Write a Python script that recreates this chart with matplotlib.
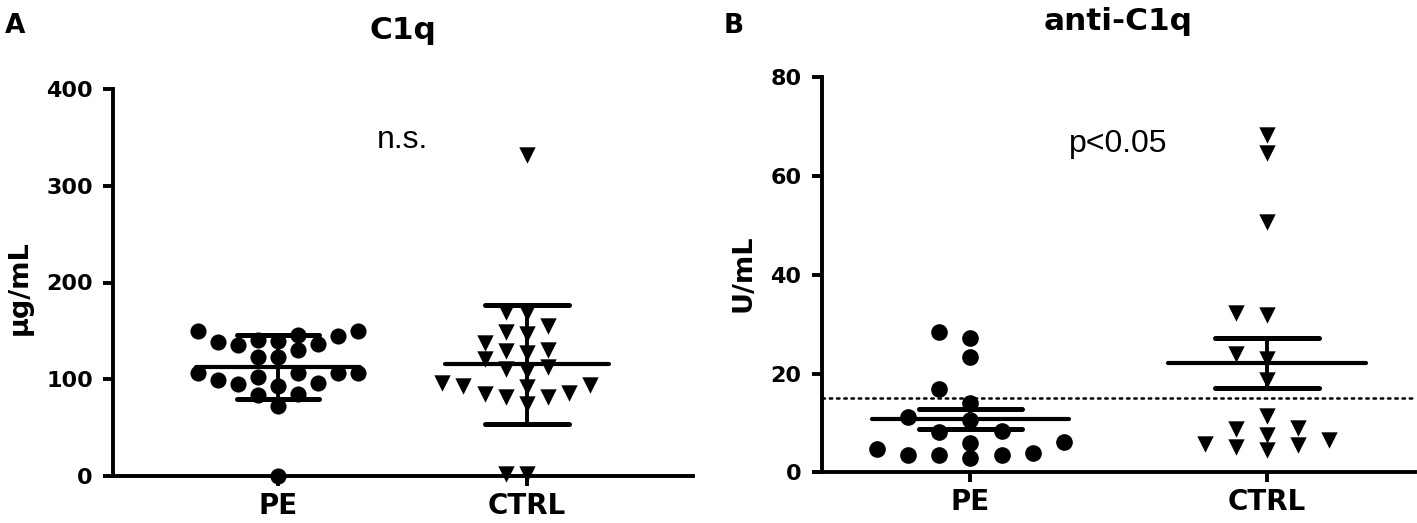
import numpy as np
import matplotlib
matplotlib.use("Agg")
import matplotlib.pyplot as plt

# Datos
groups = ["PE", "CTRL"]

c1q_pe = [144.9, 139.8, 122.9, 138.0, 140.8, 149.4, 130.4, 135.6, 146.0, 122.9,
          136.6, 149.4, 99.4, 96.0, 102.8, 84.9, 106.3, 93.2, 72.5, 95.2,
          106.9, 83.9, 106.3, 106.3, 0.0]
c1q_ctrl = [168.4, 169.1, 154.6, 148.4, 147.0, 137.4, 130.4, 128.7, 127.6, 121.1,
            110.4, 108.7, 112.5, 96.0, 92.4, 93.2, 94.2, 86.2, 81.5, 84.9,
            82.1, 74.5, 2.0, 2.0, 332.0]

anti_pe = [28.5, 27.1, 23.3, 16.9, 14.1, 11.1, 10.6, 8.4, 6.0, 8.2,
           6.2, 3.5, 3.5, 4.7, 2.8, 4.0, 3.5]
anti_ctrl = [68.3, 64.7, 50.7, 31.8, 32.3, 22.9, 23.9, 18.7, 11.4, 8.7,
             7.6, 8.9, 5.2, 5.5, 6.5, 4.5, 5.7]
cutoff = 15

plt.rcParams["font.family"] = ["DejaVu Sans"]


def swarm_x(ax, center, values, step, min_px):
    # reparte los puntos en columnas para que no se tapen
    values = np.asarray(values, dtype=float)
    pts = np.column_stack([np.full(len(values), center), values])
    ys = ax.transData.transform(pts)[:, 1]
    order = np.argsort(values, kind="stable")
    slots = {}
    xs = np.zeros(len(values))
    for i in order:
        n = 0
        while True:
            k = (n + 1) // 2 * (-1 if n % 2 else 1)
            if all(abs(ys[i] - y) >= min_px for y in slots.get(k, [])):
                break
            n += 1
        slots.setdefault(k, []).append(ys[i])
        xs[i] = center + k * step
    return xs


def draw_group(ax, center, values, marker, ms, step, spread, w_mean, w_cap):
    xs = swarm_x(ax, center, values, step, 15)
    ax.scatter(xs, values, marker=marker, s=ms ** 2, c="black", linewidths=0,
               clip_on=False, zorder=3)
    v = np.asarray(values)
    m = v.mean()
    if spread == "sd":
        e = v.std(ddof=1)
    else:
        e = v.std(ddof=1) / np.sqrt(len(v))
    kw = dict(color="black", solid_capstyle="round", zorder=4, clip_on=False)
    ax.plot([center, center], [m - e, m + e], lw=2.8, **kw)
    ax.plot([center - w_mean, center + w_mean], [m, m], lw=3.0, **kw)
    ax.plot([center - w_cap, center + w_cap], [m + e, m + e], lw=3.6, **kw)
    ax.plot([center - w_cap, center + w_cap], [m - e, m - e], lw=3.6, **kw)


def style_axes(ax, yticks):
    for s in ["top", "right"]:
        ax.spines[s].set_visible(False)
    for s in ["left", "bottom"]:
        ax.spines[s].set_linewidth(2.8)
    ax.tick_params(axis="both", width=2.8, length=7.5, color="black")
    ax.tick_params(axis="y", pad=7)
    ax.tick_params(axis="x", pad=4)
    ax.set_xticks([0, 1])
    ax.set_xticklabels(groups, fontsize=20, fontweight="bold")
    ax.set_yticks(yticks)
    ax.set_yticklabels([str(t) for t in yticks], fontsize=16, fontweight="bold")


fig = plt.figure(figsize=(14.17, 5.23), dpi=100)
W, H = 1417, 523

# Panel A
axA = fig.add_axes([113 / W, 47 / H, (693 - 113) / W, (476 - 89) / H])
axA.set_xlim(-0.663, 1.667)
axA.set_ylim(0, 400)
style_axes(axA, [0, 100, 200, 300, 400])
draw_group(axA, 0, c1q_pe, "o", 11.6, 0.08, "sd", 0.33, 0.165)
draw_group(axA, 1, c1q_ctrl, "v", 11.8, 0.085, "sd", 0.33, 0.17)
axA.set_title("C1q", fontsize=22.5, fontweight="bold", pad=36)
axA.set_ylabel("µg/mL", fontsize=19.5, fontweight="bold")
axA.yaxis.set_label_coords(-0.138, 0.488)
axA.text(0.5, 339, "n.s.", ha="center", va="baseline", fontsize=23,
         family=["Liberation Sans", "DejaVu Sans"])

# Panel B
axB = fig.add_axes([821.7 / W, 50.7 / H, (1415 - 821.7) / W, (472.3 - 77.1) / H])
axB.set_xlim(-0.502, 1.5)
axB.set_ylim(0, 80)
style_axes(axB, [0, 20, 40, 60, 80])
draw_group(axB, 0, anti_pe, "o", 12.0, 0.105, "sem", 0.333, 0.174)
draw_group(axB, 1, anti_ctrl, "v", 11.8, 0.105, "sem", 0.333, 0.175)
axB.axhline(cutoff, color="black", lw=1.8, ls=(0, (1, 1.9)),
            dash_capstyle="round", zorder=5)
axB.set_title("anti-C1q", fontsize=22.5, fontweight="bold", pad=34)
axB.set_ylabel("U/mL", fontsize=19.5, fontweight="bold")
axB.yaxis.set_label_coords(-0.110, 0.504)
axB.text(0.5, 64.9, "p<0.05", ha="center", va="baseline", fontsize=23,
         family=["Liberation Sans", "DejaVu Sans"])

fig.text(5 / W, 1 - 33 / H, "A", fontsize=19, fontweight="bold", va="baseline")
fig.text(724 / W, 1 - 33 / H, "B", fontsize=19, fontweight="bold", va="baseline")

fig.savefig("out.png", dpi=100)
